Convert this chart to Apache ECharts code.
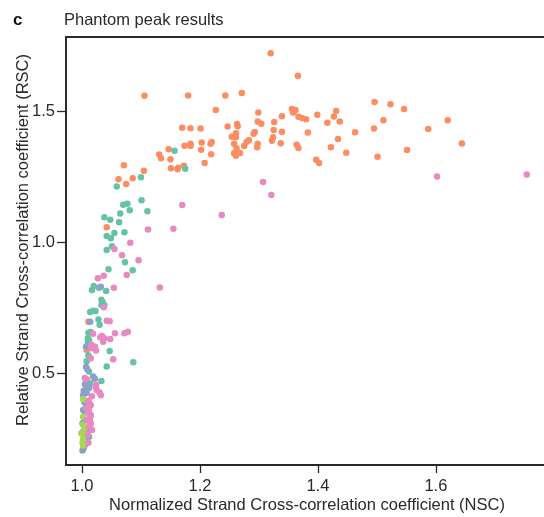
<!DOCTYPE html>
<html>
<head>
<meta charset="utf-8">
<title>Phantom peak results</title>
<script src="https://cdn.jsdelivr.net/npm/echarts@6/dist/echarts.min.js"></script>
<style>
  html, body { margin: 0; padding: 0; background: #fff; }
  #chart { width: 544px; height: 517px; }
</style>
</head>
<body>
<div id="chart"></div>
<script>
// [NSC, RSC] pairs for each sample group
const orangeSet = [
  [1.320,1.720],[1.366,1.634],[1.106,1.558],[1.180,1.559],[1.243,1.559],[1.271,1.569],
  [1.227,1.504],[1.356,1.508],[1.362,1.504],[1.358,1.494],[1.299,1.494],[1.339,1.480],
  [1.367,1.478],[1.373,1.473],[1.380,1.469],[1.298,1.460],[1.304,1.451],[1.326,1.458],
  [1.263,1.450],[1.264,1.442],[1.247,1.441],[1.170,1.436],[1.184,1.434],[1.201,1.433],
  [1.325,1.428],[1.339,1.421],[1.293,1.420],[1.291,1.413],[1.383,1.418],[1.261,1.415],
  [1.254,1.402],[1.261,1.400],[1.324,1.400],[1.322,1.387],[1.283,1.389],[1.279,1.382],
  [1.220,1.382],[1.218,1.375],[1.203,1.380],[1.184,1.375],[1.184,1.367],[1.174,1.368],
  [1.258,1.375],[1.262,1.358],[1.258,1.339],[1.268,1.340],[1.261,1.329],[1.298,1.375],
  [1.297,1.362],[1.275,1.367],[1.337,1.377],[1.364,1.371],[1.367,1.359],[1.147,1.354],
  [1.202,1.352],[1.219,1.335],[1.131,1.334],[1.134,1.320],[1.150,1.316],[1.208,1.302],
  [1.071,1.293],[1.151,1.282],[1.162,1.278],[1.163,1.284],[1.173,1.291],[1.105,1.272],
  [1.086,1.244],[1.062,1.240],[1.075,1.222],[1.042,1.057],
  [1.496,1.534],[1.523,1.526],[1.546,1.508],[1.431,1.500],[1.399,1.486],[1.427,1.479],
  [1.416,1.455],[1.437,1.460],[1.511,1.465],[1.620,1.465],[1.495,1.433],[1.463,1.419],
  [1.587,1.431],[1.434,1.393],[1.422,1.362],[1.448,1.341],[1.644,1.376],[1.551,1.351],
  [1.501,1.326],[1.397,1.314],[1.402,1.302],
  [1.011,0.697],[1.008,0.590]
];

const tealSet = [
  [1.157,1.349],[1.175,1.280],[1.100,1.248],[1.059,1.212],[1.070,1.143],[1.077,1.147],
  [1.101,1.160],[1.081,1.122],[1.065,1.109],[1.111,1.118],[1.038,1.095],[1.048,1.086],
  [1.063,1.076],[1.042,1.024],[1.049,1.015],[1.055,1.035],[1.072,1.038],[1.042,0.970],
  [1.051,0.985],[1.073,0.924],[1.086,0.893],[1.045,0.897],[1.020,0.833],[1.017,0.818],
  [1.029,0.826],[1.041,0.814],[1.033,0.781],[1.035,0.772],[1.033,0.761],[1.038,0.760],
  [1.014,0.734],[1.019,0.739],[1.023,0.738],[1.028,0.705],[1.030,0.685],[1.011,0.655],
  [1.015,0.658],[1.010,0.634],[1.012,0.627],[1.010,0.617],[1.047,0.585],[1.011,0.569],
  [1.008,0.546],[1.087,0.543],[1.042,0.526],[1.012,0.507],[1.033,0.471],[1.014,0.463],
  [1.001,0.310],[1.012,0.259]
];

const blueSet = [
  [1.032,0.830],[1.014,0.697],[1.007,0.602],[1.007,0.524],[1.009,0.516],[1.019,0.488],
  [1.022,0.480],[1.005,0.459],[1.008,0.450],[1.012,0.444],[1.003,0.434],[1.002,0.418],
  [1.008,0.425],[1.004,0.391],[1.007,0.380],[1.002,0.361],[1.005,0.351],[1.005,0.323],
  [1.002,0.278],[1.008,0.285],[1.007,0.253],[1.005,0.227],[1.003,0.215],[1.001,0.206]
];

const greenSet = [
  [1.002,0.402],[1.002,0.335],[1.002,0.304],[1.005,0.291],[0.999,0.272],[1.003,0.266],
  [1.002,0.249],[1.001,0.236],[1.002,0.225]
];

const pinkSet = [
  [1.307,1.229],[1.321,1.180],[1.170,1.142],[1.237,1.104],[1.155,1.051],[1.602,1.250],
  [1.754,1.258],[1.112,1.048],[1.082,0.998],[1.055,0.974],[1.068,0.950],[1.096,0.931],
  [1.076,0.875],[1.037,0.872],[1.027,0.863],[1.054,0.826],[1.132,0.827],[1.037,0.752],
  [1.042,0.701],[1.047,0.699],[1.019,0.651],[1.031,0.638],[1.034,0.643],[1.038,0.634],
  [1.056,0.653],[1.072,0.653],[1.078,0.659],[1.048,0.631],[1.036,0.621],[1.016,0.609],
  [1.015,0.596],[1.024,0.587],[1.022,0.602],[1.015,0.558],[1.053,0.554],[1.005,0.483],
  [1.008,0.478],[1.024,0.456],[1.023,0.449],[1.025,0.437],[1.030,0.427],[1.032,0.417],
  [1.017,0.413],[1.011,0.396],[1.012,0.386],[1.008,0.367],[1.012,0.361],[1.011,0.351],
  [1.015,0.342],[1.014,0.335],[1.014,0.316],[1.015,0.308],[1.012,0.297],[1.010,0.266],
  [1.011,0.236],[1.015,0.380],[1.008,0.322],[1.017,0.284]
];

const xTicks = [1.0, 1.2, 1.4, 1.6];
const yTicks = [0.5, 1.0, 1.5];

const FONT = '"Liberation Sans", Arial, sans-serif';
const INK = '#2a2a2a';
const AXIS = '#2a2a2a';
const FS = 16.5;

function dots(name, data, color) {
  return {
    name: name,
    type: 'scatter',
    data: data,
    symbol: 'circle',
    symbolSize: 6.5,
    itemStyle: { color: color, opacity: 1 },
    emphasis: { disabled: true },
    silent: true
  };
}

const chart = echarts.init(document.getElementById('chart'), null, { renderer: 'canvas' });

chart.setOption({
  animation: false,
  backgroundColor: '#fff',
  title: [
    { text: 'c', left: 8, top: 7,
      textStyle: { fontFamily: FONT, fontSize: 17, fontWeight: 'bold', color: '#111' } },
    { text: 'Phantom peak results', left: 59, top: 7,
      textStyle: { fontFamily: FONT, fontSize: FS, fontWeight: 'normal', color: INK } }
  ],
  grid: {
    left: 66, top: 37, right: -4, bottom: 52,
    outerBoundsMode: 'none',
    show: true, borderColor: AXIS, borderWidth: 1.8, backgroundColor: 'transparent'
  },
  xAxis: {
    type: 'value',
    min: 0.973, max: 1.79,
    splitLine: { show: false },
    axisLine: { show: true, onZero: false, lineStyle: { color: AXIS, width: 1.8 } },
    axisTick: { show: true, length: 8, customValues: xTicks, lineStyle: { color: AXIS, width: 1.3 } },
    axisLabel: {
      customValues: xTicks, margin: 13,
      formatter: v => v.toFixed(1),
      fontFamily: FONT, fontSize: FS, color: INK
    },
    name: 'Normalized Strand Cross-correlation coefficient (NSC)',
    nameLocation: 'middle', nameGap: 32, nameMoveOverlap: false,
    nameTextStyle: { fontFamily: FONT, fontSize: FS, color: INK }
  },
  yAxis: {
    type: 'value',
    min: 0.151, max: 1.782,
    splitLine: { show: false },
    axisLine: { show: true, onZero: false, lineStyle: { color: AXIS, width: 1.8 } },
    axisTick: { show: true, length: 9, customValues: yTicks, lineStyle: { color: AXIS, width: 1.3 } },
    axisLabel: {
      customValues: yTicks, margin: 11,
      formatter: v => v.toFixed(1),
      fontFamily: FONT, fontSize: FS, color: INK
    },
    name: 'Relative Strand Cross-correlation coefficient (RSC)',
    nameLocation: 'middle', nameGap: 34, nameMoveOverlap: false,
    nameTextStyle: { fontFamily: FONT, fontSize: FS, color: INK, padding: [0, 0, 0, 22] }
  },
  series: [
    dots('orange', orangeSet, '#fc8d62'),
    dots('teal', tealSet, '#66c2a5'),
    dots('blue', blueSet, '#8da0cb'),
    dots('green', greenSet, '#a6d854'),
    dots('pink', pinkSet, '#e78ac3')
  ]
});
</script>
</body>
</html>
